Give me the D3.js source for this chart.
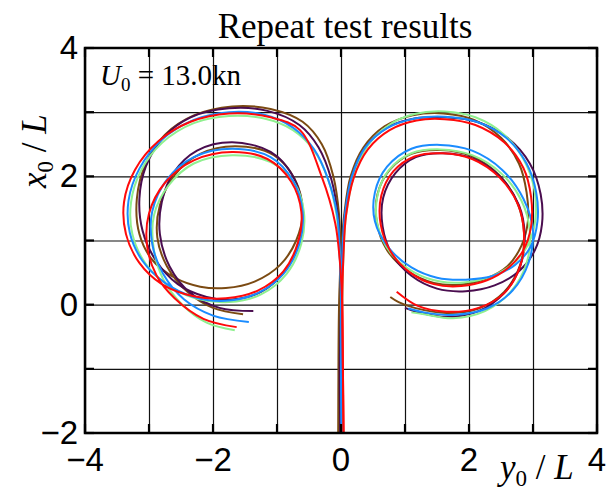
<!DOCTYPE html>
<html>
<head>
<meta charset="utf-8">
<script src="https://cdn.jsdelivr.net/npm/d3@7/dist/d3.min.js"></script>
<style>
  body { margin: 0; background: #fff; }
  svg { display: block; }
  .serif { font-family: "Liberation Serif", "Times New Roman", serif; }
  .sans { font-family: "Liberation Sans", Arial, Helvetica, sans-serif; }
</style>
</head>
<body>
<svg id="chart" width="607" height="496"></svg>
<script>
// trajectories, points are [y0/L, x0/L]
var runNames = ["brown", "purple", "green", "blue", "red"];
var runColors = ["#7b4a12", "#4a0d4f", "#8ff08f", "#1a8cff", "#ff0a0a"];

var portTurns = [
  [[-0.04,-2],[-0.03,-1],[-0.02,0],[-0.01,0.8],[-0.03,1.4],[-0.12,2.0],[-0.3,2.5],[-0.6,2.85],[-1.1,3.05],[-1.7,3.09],[-2.3,2.95],[-2.75,2.65],[-3.05,2.2],[-3.19,1.65],[-3.15,1.1],[-2.95,0.7],[-2.6,0.42],[-2.2,0.28],[-1.8,0.26],[-1.35,0.36],[-0.95,0.62],[-0.7,1.0],[-0.6,1.45],[-0.72,1.95],[-1.05,2.33],[-1.65,2.47],[-2.2,2.35],[-2.6,2.02],[-2.83,1.55],[-2.87,1.05],[-2.72,0.6],[-2.4,0.2],[-2.0,-0.05],[-1.53,-0.15]],
  [[-0.01,-2],[-0.02,-1],[0.0,0],[-0.02,0.8],[-0.05,1.4],[-0.15,1.95],[-0.35,2.45],[-0.65,2.8],[-1.15,3.02],[-1.75,3.06],[-2.35,2.92],[-2.78,2.6],[-3.05,2.15],[-3.15,1.65],[-3.1,1.15],[-2.9,0.7],[-2.55,0.32],[-2.1,0.12],[-1.7,0.08],[-1.25,0.2],[-0.88,0.52],[-0.65,0.98],[-0.6,1.48],[-0.75,2.0],[-1.1,2.38],[-1.7,2.53],[-2.25,2.4],[-2.62,2.05],[-2.8,1.6],[-2.83,1.1],[-2.68,0.6],[-2.35,0.18],[-1.9,-0.05],[-1.37,-0.1]],
  [[0.03,-2],[0.02,-1],[0.01,0],[-0.02,0.8],[-0.07,1.4],[-0.2,1.95],[-0.42,2.4],[-0.75,2.72],[-1.2,2.9],[-1.75,2.94],[-2.3,2.83],[-2.8,2.52],[-3.13,2.08],[-3.28,1.6],[-3.26,1.1],[-3.06,0.65],[-2.7,0.3],[-2.25,0.09],[-1.75,0.04],[-1.25,0.16],[-0.85,0.48],[-0.62,0.95],[-0.58,1.45],[-0.73,1.9],[-1.1,2.22],[-1.7,2.33],[-2.3,2.2],[-2.7,1.85],[-2.92,1.4],[-2.93,0.9],[-2.78,0.4],[-2.48,0.0],[-2.1,-0.28],[-1.66,-0.4]],
  [[0.01,-2],[0.0,-1],[0.0,0],[-0.02,0.8],[-0.06,1.4],[-0.2,1.95],[-0.42,2.42],[-0.75,2.76],[-1.2,2.96],[-1.75,3.0],[-2.3,2.88],[-2.8,2.57],[-3.15,2.12],[-3.32,1.62],[-3.3,1.12],[-3.1,0.68],[-2.75,0.34],[-2.3,0.12],[-1.8,0.06],[-1.3,0.18],[-0.9,0.48],[-0.65,0.95],[-0.6,1.45],[-0.75,1.93],[-1.1,2.3],[-1.7,2.43],[-2.3,2.3],[-2.72,1.95],[-2.95,1.45],[-2.95,0.95],[-2.78,0.48],[-2.45,0.08],[-2.0,-0.17],[-1.44,-0.27]],
  [[0.04,-2],[0.03,-1],[0.02,0],[-0.02,0.7],[-0.09,1.27],[-0.3,1.99],[-0.64,2.72],[-1.1,2.92],[-1.75,2.98],[-2.35,2.85],[-2.85,2.55],[-3.22,2.1],[-3.39,1.6],[-3.36,1.1],[-3.15,0.65],[-2.8,0.32],[-2.3,0.13],[-1.8,0.1],[-1.3,0.22],[-0.9,0.52],[-0.67,0.98],[-0.62,1.45],[-0.78,1.92],[-1.15,2.27],[-1.7,2.38],[-2.3,2.25],[-2.75,1.9],[-3.0,1.42],[-3.03,0.92],[-2.88,0.45],[-2.6,0.1],[-2.15,-0.22],[-1.63,-0.35]]
];

var starboardTurns = [
  [[-0.04,-2],[-0.04,-1],[-0.03,0],[0.0,0.8],[0.05,1.4],[0.15,2.0],[0.35,2.45],[0.68,2.78],[1.12,2.95],[1.6,2.98],[2.08,2.88],[2.5,2.6],[2.78,2.2],[2.9,1.75],[2.92,1.3],[2.82,0.92],[2.6,0.6],[2.25,0.4],[1.85,0.31],[1.45,0.34],[1.05,0.52],[0.72,0.85],[0.56,1.28],[0.57,1.72],[0.76,2.1],[1.1,2.35],[1.55,2.41],[2.05,2.31],[2.47,2.02],[2.75,1.6],[2.86,1.12],[2.8,0.62],[2.55,0.2],[2.15,-0.06],[1.65,-0.13],[1.15,-0.05],[0.9,0.04],[0.77,0.12]],
  [[-0.01,-2],[-0.01,-1],[0.0,0],[0.02,0.8],[0.06,1.4],[0.17,2.0],[0.38,2.45],[0.72,2.76],[1.15,2.9],[1.62,2.92],[2.12,2.85],[2.6,2.6],[2.95,2.2],[3.12,1.72],[3.14,1.25],[3.03,0.85],[2.78,0.52],[2.4,0.3],[1.95,0.21],[1.5,0.25],[1.1,0.45],[0.8,0.78],[0.65,1.22],[0.66,1.67],[0.85,2.05],[1.17,2.3],[1.6,2.36],[2.08,2.27],[2.5,1.98],[2.78,1.55],[2.87,1.08],[2.8,0.6],[2.55,0.18],[2.15,-0.1],[1.65,-0.19],[1.25,-0.13],[1.0,-0.05]],
  [[0.03,-2],[0.02,-1],[0.02,0],[0.04,0.8],[0.08,1.4],[0.2,2.0],[0.42,2.48],[0.75,2.8],[1.15,2.97],[1.62,3.01],[2.1,2.92],[2.55,2.65],[2.86,2.25],[3.02,1.8],[3.04,1.35],[2.93,0.95],[2.7,0.65],[2.35,0.44],[1.95,0.35],[1.55,0.36],[1.15,0.5],[0.78,0.8],[0.57,1.25],[0.57,1.7],[0.75,2.1],[1.1,2.36],[1.55,2.42],[2.05,2.33],[2.5,2.05],[2.82,1.62],[2.95,1.15],[2.9,0.65],[2.65,0.2],[2.25,-0.1],[1.75,-0.21],[1.3,-0.15],[1.1,-0.12]],
  [[0.01,-2],[0.0,-1],[0.0,0],[0.02,0.8],[0.06,1.4],[0.17,2.0],[0.38,2.45],[0.72,2.75],[1.15,2.9],[1.62,2.93],[2.12,2.85],[2.58,2.6],[2.9,2.2],[3.05,1.75],[3.07,1.3],[2.96,0.9],[2.72,0.62],[2.38,0.45],[1.95,0.39],[1.5,0.42],[1.1,0.58],[0.75,0.88],[0.53,1.3],[0.53,1.75],[0.72,2.15],[1.1,2.43],[1.55,2.49],[2.05,2.4],[2.52,2.1],[2.85,1.65],[3.0,1.15],[2.93,0.65],[2.68,0.22],[2.28,-0.06],[1.75,-0.16],[1.3,-0.12],[1.05,-0.06]],
  [[0.04,-2],[0.03,-1],[0.02,0],[0.04,0.8],[0.08,1.4],[0.2,1.98],[0.42,2.42],[0.76,2.72],[1.18,2.87],[1.62,2.89],[2.1,2.8],[2.55,2.53],[2.85,2.13],[2.97,1.68],[2.97,1.22],[2.85,0.85],[2.62,0.58],[2.28,0.38],[1.88,0.29],[1.45,0.32],[1.08,0.5],[0.78,0.82],[0.62,1.25],[0.63,1.7],[0.82,2.08],[1.15,2.31],[1.58,2.36],[2.05,2.27],[2.48,1.98],[2.77,1.55],[2.86,1.1],[2.8,0.6],[2.55,0.18],[2.15,-0.05],[1.65,-0.11],[1.2,-0.02],[0.87,0.2]]
];

var xTicks = [-4, -3, -2, -1, 0, 1, 2, 3, 4];
var yTicks = [-2, -1, 0, 1, 2, 3, 4];
var xLabels = [-4, -2, 0, 2, 4];
var yLabels = [-2, 0, 2, 4];

var plotL = 85, plotR = 597, plotT = 48, plotB = 433;

var svg = d3.select("#chart");
var x = d3.scaleLinear().domain([-4, 4]).range([plotL, plotR]);
var y = d3.scaleLinear().domain([-2, 4]).range([plotB, plotT]);

function fmt(v) { return v < 0 ? "\u2212" + Math.abs(v) : "" + v; }

// grid
svg.append("g")
    .attr("transform", "translate(0," + plotB + ")")
    .call(d3.axisBottom(x).tickValues(xTicks).tickSize(-(plotB - plotT)).tickFormat(""))
    .call(function(g) {
        g.select(".domain").remove();
        g.selectAll("line").attr("stroke", "#111").attr("stroke-width", 1.2);
    });
svg.append("g")
    .attr("transform", "translate(" + plotL + ",0)")
    .call(d3.axisLeft(y).tickValues(yTicks).tickSize(-(plotR - plotL)).tickFormat(""))
    .call(function(g) {
        g.select(".domain").remove();
        g.selectAll("line").attr("stroke", "#111").attr("stroke-width", 1.2);
    });

// trajectories
svg.append("clipPath").attr("id", "plotclip")
    .append("rect").attr("x", plotL).attr("y", plotT)
    .attr("width", plotR - plotL).attr("height", plotB - plotT);

var line = d3.line()
    .x(function(d) { return x(d[0]); })
    .y(function(d) { return y(d[1]); })
    .curve(d3.curveCatmullRom.alpha(0.5));

var runs = [];
runNames.forEach(function(name, i) {
    runs.push({name: name, side: "port", color: runColors[i], pts: portTurns[i]});
    runs.push({name: name, side: "stbd", color: runColors[i], pts: starboardTurns[i]});
});

svg.append("g").attr("clip-path", "url(#plotclip)")
    .selectAll("path")
    .data(runs)
    .enter()
    .append("path")
    .attr("d", function(d) { return line(d.pts); })
    .attr("fill", "none")
    .attr("stroke", function(d) { return d.color; })
    .attr("stroke-width", 2)
    .attr("stroke-linejoin", "round");

// inward ticks on all four sides
var tickLen = 9;
var tk = svg.append("g").attr("stroke", "#000").attr("stroke-width", 2.2);
xTicks.forEach(function(v) {
    tk.append("line").attr("x1", x(v)).attr("x2", x(v)).attr("y1", plotB).attr("y2", plotB - tickLen);
    tk.append("line").attr("x1", x(v)).attr("x2", x(v)).attr("y1", plotT).attr("y2", plotT + tickLen);
});
yTicks.forEach(function(v) {
    tk.append("line").attr("x1", plotL).attr("x2", plotL + tickLen).attr("y1", y(v)).attr("y2", y(v));
    tk.append("line").attr("x1", plotR).attr("x2", plotR - tickLen).attr("y1", y(v)).attr("y2", y(v));
});

// frame
svg.append("rect")
    .attr("x", plotL).attr("y", plotT)
    .attr("width", plotR - plotL).attr("height", plotB - plotT)
    .attr("fill", "none").attr("stroke", "#000").attr("stroke-width", 2.5);

// tick labels
svg.append("g").selectAll("text")
    .data(xLabels)
    .enter()
    .append("text")
    .attr("class", "sans")
    .attr("x", function(d) { return x(d); })
    .attr("y", 471)
    .attr("text-anchor", "middle")
    .attr("font-size", 33)
    .text(fmt);

svg.append("g").selectAll("text")
    .data(yLabels)
    .enter()
    .append("text")
    .attr("class", "sans")
    .attr("x", 78)
    .attr("y", function(d) { return y(d) + 11; })
    .attr("text-anchor", "end")
    .attr("font-size", 33)
    .text(fmt);

// title
svg.append("text")
    .attr("class", "serif")
    .attr("x", 345).attr("y", 38)
    .attr("text-anchor", "middle")
    .attr("font-size", 35)
    .text("Repeat test results");

// speed note
var note = svg.append("text")
    .attr("class", "serif")
    .attr("x", 100).attr("y", 85)
    .attr("font-size", 29);
note.append("tspan").attr("font-style", "italic").text("U");
note.append("tspan").attr("font-size", 19).attr("dy", 6).text("0");
note.append("tspan").attr("dy", -6).text(" = 13.0kn");

// axis titles
var xt = svg.append("text")
    .attr("class", "serif")
    .attr("x", 500).attr("y", 479)
    .attr("font-size", 35);
xt.append("tspan").attr("font-style", "italic").text("y");
xt.append("tspan").attr("font-size", 23).attr("dy", 7).text("0");
xt.append("tspan").attr("dy", -7).text(" / ");
xt.append("tspan").attr("font-style", "italic").text("L");

var yt = svg.append("text")
    .attr("class", "serif")
    .attr("transform", "translate(46,188) rotate(-90)")
    .attr("font-size", 35);
yt.append("tspan").attr("font-style", "italic").text("x");
yt.append("tspan").attr("font-size", 23).attr("dy", 7).text("0");
yt.append("tspan").attr("dy", -7).text(" / ");
yt.append("tspan").attr("font-style", "italic").text("L");
</script>
</body>
</html>
